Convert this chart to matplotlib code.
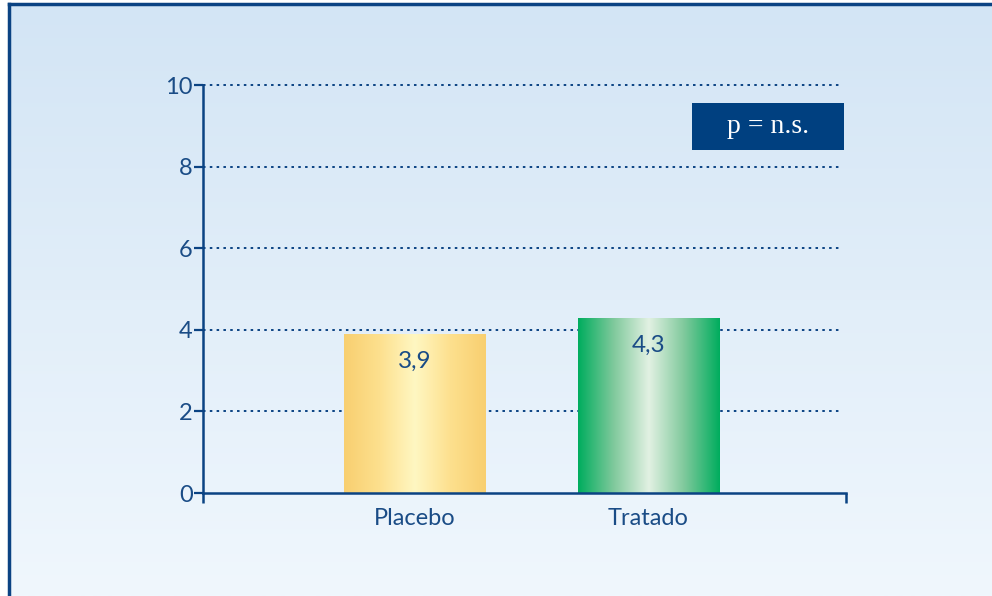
import numpy as np
import matplotlib
matplotlib.use("Agg")
from matplotlib import pyplot as plt
from matplotlib.colors import LinearSegmentedColormap
from matplotlib.patches import Rectangle
from matplotlib.lines import Line2D

categories = ["Placebo", "Tratado"]
values = [3.9, 4.3]
value_labels = ["3,9", "4,3"]
yticks = [0, 2, 4, 6, 8, 10]

navy = "#0b4383"
text_blue = "#1a4c86"

plt.rcParams['font.family'] = ['Lato', 'DejaVu Sans']

fig = plt.figure(figsize=(9.92, 5.96), dpi=100, facecolor="white")

# background panel with vertical gradient
bg = fig.add_axes([0, 0, 1, 1], zorder=0)
bg.set_xlim(0, 1)
bg.set_ylim(0, 1)
bg.axis("off")
grad = np.linspace(0, 1, 256).reshape(-1, 1)
bg_cmap = LinearSegmentedColormap.from_list("bg", ["#d3e5f5", "#f0f7fd"])
bg.imshow(grad, cmap=bg_cmap, aspect="auto", extent=[9/992, 1, 0, 1 - 4/596], origin="upper")
bg.add_line(Line2D([9/992, 9/992], [0, 1 - 4/596], color=navy, lw=2.5))
bg.add_line(Line2D([9/992, 1], [1 - 4/596, 1 - 4/596], color=navy, lw=2.5))

ax = fig.add_axes([203/992, 1 - 493/596, 643/992, 408/596], zorder=1)
ax.patch.set_alpha(0)
x = np.arange(len(categories))
ax.set_xlim(-0.904, 1.844)
ax.set_ylim(0, 10)

for y in yticks[1:]:
    ax.axhline(y, xmax=0.99, color=navy, lw=1.4, ls=(0, (1.3, 2.2)), zorder=1, clip_on=False)

bars = ax.bar(x, values, width=0.603, color="none", zorder=2)
grad_cols = [["#f8cf70", "#fde08e", "#fff7c2", "#fde08e", "#f8cf70"],
             ["#00ad5e", "#7fc99c", "#e2f1e3", "#7fc99c", "#00ad5e"]]
hgrad = np.linspace(0, 1, 256).reshape(1, -1)
for b, cols in zip(bars, grad_cols):
    cm = LinearSegmentedColormap.from_list("g", cols)
    x0, y0 = b.get_x(), b.get_y()
    im = ax.imshow(hgrad, cmap=cm, aspect="auto", zorder=2,
                   extent=[x0, x0 + b.get_width(), y0, y0 + b.get_height()])
    im.set_clip_path(b)

for xi, v, lab in zip(x, values, value_labels):
    ax.annotate(lab, (xi, v), xytext=(0, -20), textcoords="offset points",
                ha="center", va="center", fontsize=17.5, color=text_blue, zorder=3)

ax.set_xlim(-0.904, 1.844)
ax.set_ylim(0, 10)

for s in ["top", "right"]:
    ax.spines[s].set_visible(False)
for s in ["left", "bottom"]:
    ax.spines[s].set_color(navy)
    ax.spines[s].set_linewidth(1.8)

ax.set_yticks(yticks)
ax.set_yticklabels([str(t) for t in yticks])
ax.tick_params(axis="y", direction="out", length=6.5, width=1.6, color=navy,
               labelcolor=text_blue, labelsize=17, pad=1)
ax.set_xticks([-0.904, 1.844])
ax.set_xticklabels(["", ""])
ax.tick_params(axis="x", which="major", direction="out", length=7, width=1.8, color=navy)
ax.set_xticks(x, minor=True)
ax.set_xticklabels(categories, minor=True)
ax.tick_params(axis="x", which="minor", length=0, pad=10.5, labelsize=17, labelcolor=text_blue)

# p-value box
ax.add_patch(Rectangle((0.7605, 0.8407), 0.2364, 0.1153, transform=ax.transAxes,
                       fc="#004080", ec="none", zorder=4, clip_on=False))
ax.text(0.8787, 0.8983, "p = n.s.", transform=ax.transAxes, ha="center", va="center",
        fontsize=20, color="white", family=["Liberation Serif", "DejaVu Serif"], zorder=5)

fig.savefig("out.png", dpi=100, facecolor="white")
